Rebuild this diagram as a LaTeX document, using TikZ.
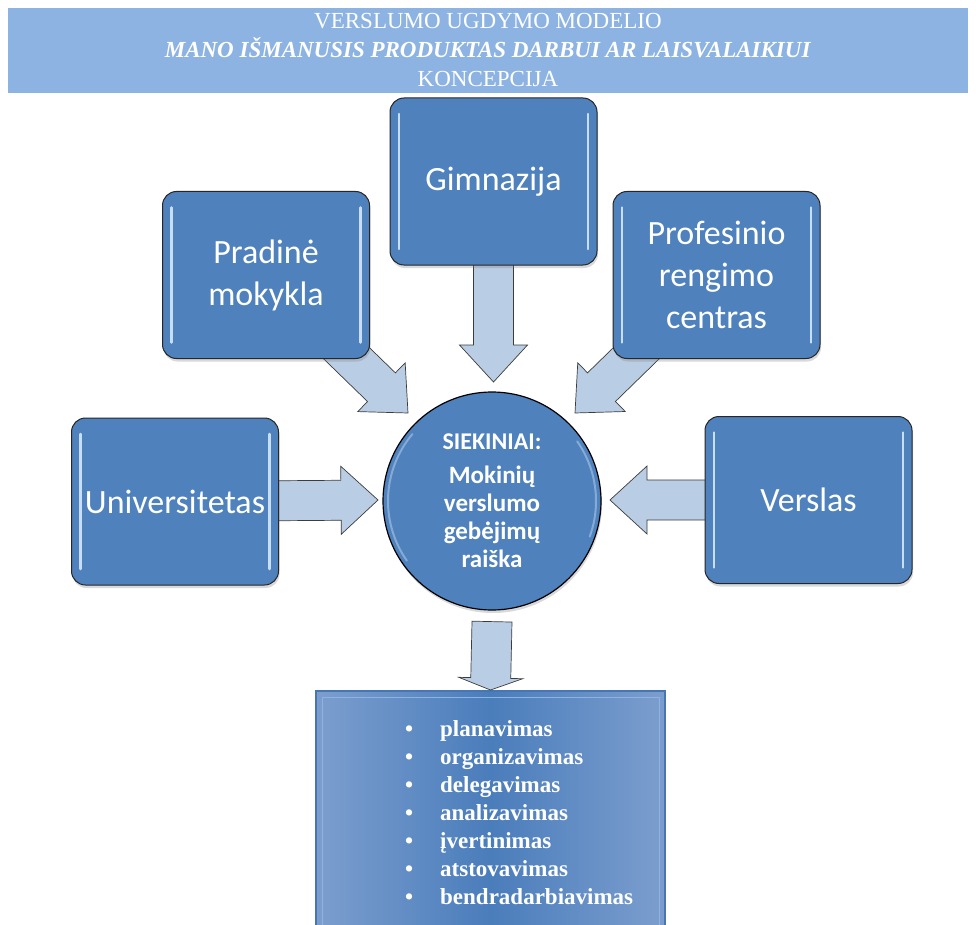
\documentclass[tikz,border=0pt]{standalone}
\usepackage{fontspec}
\setmainfont{Liberation Serif}
\newfontfamily\calibrifont{Carlito}
\usepackage{tikz}
\usetikzlibrary{calc, shadows, backgrounds}
\definecolor{boxblue}{RGB}{79, 129, 189}
\definecolor{bannerblue}{RGB}{141, 179, 226}
\definecolor{arrowfill}{RGB}{185, 205, 229}
\definecolor{arrowline}{RGB}{60, 60, 60}
\definecolor{glint}{RGB}{200, 222, 246}
\definecolor{listedge}{RGB}{124, 158, 206}
\definecolor{listmid}{RGB}{74, 125, 187}
\definecolor{listborder}{RGB}{70, 118, 180}

\begin{document}
\begin{tikzpicture}[x=1pt, y=-1pt,
    banner/.style={fill=bannerblue, minimum width=960, minimum height=85, inner sep=0,
                   text=white, align=center, font=\fontsize{23}{29}\selectfont},
    stage/.style={draw=black!85, line width=1pt, rounded corners=14pt, fill=boxblue,
                  minimum width=207, minimum height=167, inner sep=0, text=white, align=center,
                  font=\calibrifont\fontsize{34}{42}\selectfont,
                  drop shadow={shadow xshift=1pt, shadow yshift=-3pt, opacity=0.3},
                  path picture={
                    \draw[glint, line width=2.5pt, line cap=round]
                      ([xshift=9pt, yshift=-16pt]path picture bounding box.north west)
                      -- ([xshift=9pt, yshift=16pt]path picture bounding box.south west)
                      ([xshift=-9pt, yshift=-16pt]path picture bounding box.north east)
                      -- ([xshift=-9pt, yshift=16pt]path picture bounding box.south east);}},
    goal/.style={circle, draw=black, line width=1.2pt, fill=boxblue, minimum size=218,
                 inner sep=0, text=white, align=center,
                 font=\calibrifont\bfseries\fontsize{25}{28}\selectfont,
                 drop shadow={shadow xshift=1pt, shadow yshift=-3pt, opacity=0.3},
                 path picture={
                   \draw[glint, opacity=0.45, line width=2pt, line cap=round]
                     ($(path picture bounding box.center)+(140:104pt)$) arc (140:215:104pt)
                     ($(path picture bounding box.center)+(-20:104pt)$) arc (-20:35:104pt);}},
    skillbox/.style={draw=listborder, line width=2pt, left color=listedge, right color=listedge,
                     middle color=listmid, minimum width=349, minimum height=250, inner sep=0,
                     path picture={
                       \draw[bannerblue, line width=1pt]
                         ([xshift=6pt, yshift=-6pt]path picture bounding box.north west)
                         rectangle ([xshift=-6pt, yshift=6pt]path picture bounding box.south east);}},
    skilllist/.style={inner sep=0, text=white, align=left,
                      font=\bfseries\fontsize{23}{28}\selectfont},
    arrow shaft/.store in=\shaftw, arrow head/.store in=\headw, arrow tip len/.store in=\headlen,
    arrow shaft=20pt, arrow head=34pt, arrow tip len=37pt,
    fatarrow/.style={draw=arrowline, fill=arrowfill, line width=0.7pt, line join=miter,
      to path={
        ($(\tikztostart)!\shaftw!90:(\tikztotarget)$)
        -- ($($(\tikztotarget)!\headlen!(\tikztostart)$)!\shaftw!90:(\tikztotarget)$)
        -- ($($(\tikztotarget)!\headlen!(\tikztostart)$)!\headw!90:(\tikztotarget)$)
        -- (\tikztotarget)
        -- ($($(\tikztotarget)!\headlen!(\tikztostart)$)!\headw!-90:(\tikztotarget)$)
        -- ($($(\tikztotarget)!\headlen!(\tikztostart)$)!\shaftw!-90:(\tikztotarget)$)
        -- ($(\tikztostart)!\shaftw!-90:(\tikztotarget)$)
        -- cycle}}
]
    \useasboundingbox (0,0) rectangle (976,925);
    \clip (0,0) rectangle (976,925);

    % title band
    \node[banner] (title) at (488,50.5)
        {VERSLUMO UGDYMO MODELIO\\\textbf{\textit{MANO IŠMANUSIS PRODUKTAS DARBUI AR LAISVALAIKIUI}}\\KONCEPCIJA};

    % partners
    \node[stage] (gimnazija) at (493.5,181.5) {Gimnazija};
    \node[stage] (pradine) at (266,275) {Pradinė\\mokykla};
    \node[stage] (profesinis) at (716.5,275) {Profesinio\\rengimo\\centras};
    \node[stage] (universitetas) at (175,501.5) {Universitetas};
    \node[stage] (verslas) at (808.5,500) {Verslas};

    \node[goal] (siekiniai) at (492,501)
        {{\fontsize{24}{28}\selectfont SIEKINIAI:}\\[6pt]Mokinių\\verslumo\\gebėjimų\\raiška};

    % abilities
    \node[skillbox, anchor=north] (gebejimai) at (490.5,690) {};
    \node[skilllist, anchor=west] (sarasas) at (405,812.5)
        {\makebox[35pt][l]{•}planavimas\\
         \makebox[35pt][l]{•}organizavimas\\
         \makebox[35pt][l]{•}delegavimas\\
         \makebox[35pt][l]{•}analizavimas\\
         \makebox[35pt][l]{•}įvertinimas\\
         \makebox[35pt][l]{•}atstovavimas\\
         \makebox[35pt][l]{•}bendradarbiavimas};

    \coordinate (gimnazija-tip) at (493.5,382);
    \coordinate (pradine-tip) at (408,413);
    \coordinate (profesinis-tip) at (575,413);
    \coordinate (universitetas-tip) at (378,500);
    \coordinate (verslas-tip) at (610,500);

    \begin{scope}[on background layer]
        \draw[fatarrow] (gimnazija.center) to (gimnazija-tip);
        \draw[fatarrow] (pradine.center) to (pradine-tip);
        \draw[fatarrow] (profesinis.center) to (profesinis-tip);
        \draw[fatarrow] (universitetas.center) to (universitetas-tip);
        \draw[fatarrow] (verslas.center) to (verslas-tip);
    \end{scope}
    \draw[fatarrow, arrow head=32pt, arrow tip len=12pt] ([yshift=-11pt]siekiniai.south) to (gebejimai.north);
\end{tikzpicture}
\end{document}
